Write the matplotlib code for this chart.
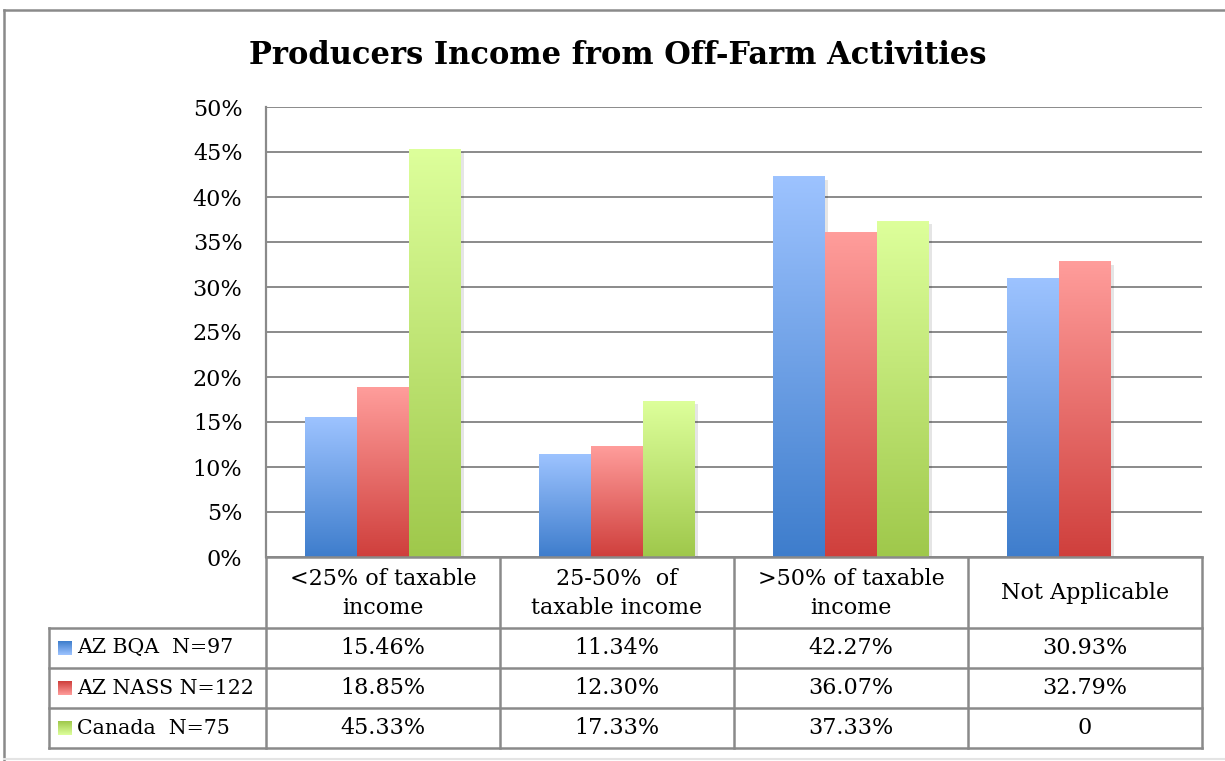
import numpy as np
import matplotlib.pyplot as plt
from matplotlib.colors import LinearSegmentedColormap
from matplotlib.patches import Rectangle
from matplotlib.transforms import offset_copy

plt.rcParams['font.family'] = ['DejaVu Serif']

categories = ['<25% of taxable\nincome', '25-50%  of\ntaxable income',
              '>50% of taxable\nincome', 'Not Applicable']
series = ['AZ BQA  N=97', 'AZ NASS N=122', 'Canada  N=75']
bqa = [15.46, 11.34, 42.27, 30.93]
nass = [18.85, 12.30, 36.07, 32.79]
canada = [45.33, 17.33, 37.33, 0]
yticks = [0, 5, 10, 15, 20, 25, 30, 35, 40, 45, 50]

# colour at the top and bottom of each bar
grad = [('#9dc3ff', '#3e7dcc'), ('#ff9d9b', '#cf3f3c'), ('#ddff9b', '#9fc84b')]


def fmt(v):
    return '0' if v == 0 else '{:.2f}%'.format(v)


def main():
    W, H = 1225, 761
    fig = plt.figure(figsize=(W / 100, H / 100), dpi=100)

    # plot area in pixels
    left, right, top, bottom = 266, 1202, 107, 557
    ax = fig.add_axes([left / W, 1 - bottom / H, (right - left) / W, (bottom - top) / H])

    values = [bqa, nass, canada]
    w = 0.222
    for i, vals in enumerate(values):
        cmap = LinearSegmentedColormap.from_list('g%d' % i, [grad[i][1], grad[i][0]])
        for j, v in enumerate(vals):
            if v <= 0:
                continue
            x = j + (i - 1) * w
            shadow = Rectangle((x - w / 2, 0), w, v, color='k', alpha=0.10, lw=0,
                               transform=offset_copy(ax.transData, fig, x=3, y=-3, units='dots'),
                               zorder=2.5)
            ax.add_patch(shadow)
            g = np.linspace(0, 1, 256).reshape(-1, 1)
            ax.imshow(g, cmap=cmap, origin='lower', aspect='auto',
                      extent=[x - w / 2, x + w / 2, 0, v], zorder=3)

    ax.set_xlim(-0.5, 3.5)
    ax.set_ylim(0, 50)
    ax.set_yticks(yticks)
    ax.set_yticklabels(['{}%'.format(t) for t in yticks], fontsize=16)
    ax.set_xticks([])
    ax.tick_params(axis='y', length=0, pad=17)
    ax.grid(axis='y', color='#8a8a8a', lw=1.4, zorder=1)
    ax.set_axisbelow(True)
    for s in ['top', 'right', 'bottom']:
        ax.spines[s].set_visible(False)
    ax.spines['left'].set_color('#8a8a8a')
    ax.spines['left'].set_linewidth(1.6)

    # overlay in pixel coordinates for the title, the data table and the frame
    ov = fig.add_axes([0, 0, 1, 1])
    ov.set_xlim(0, W)
    ov.set_ylim(H, 0)
    ov.axis('off')
    lc = '#8a8a8a'

    ov.plot([4, 4], [10, H], color=lc, lw=1.8)
    ov.plot([4, W], [10, 10], color=lc, lw=1.8)
    ov.plot([4, W], [H - 2, H - 2], color='#e4e4e4', lw=1.5)

    ov.text(618, 56, 'Producers Income from Off-Farm Activities',
            ha='center', va='center', fontsize=22, fontweight='bold')

    cw = (right - left) / len(categories)
    col_x = [left + cw * k for k in range(len(categories) + 1)]
    row_y = [bottom, 628, 668, 708, 748]
    lab_x = 49

    for cx in col_x:
        ov.plot([cx, cx], [bottom, row_y[-1]], color=lc, lw=1.8)
    ov.plot([left, right], [bottom, bottom], color=lc, lw=1.8)
    for ry in row_y[1:]:
        ov.plot([lab_x, right], [ry, ry], color=lc, lw=1.8)
    ov.plot([lab_x, lab_x], [row_y[1], row_y[-1]], color=lc, lw=1.8)

    for k, cat in enumerate(categories):
        ov.text((col_x[k] + col_x[k + 1]) / 2, (row_y[0] + row_y[1]) / 2 + 1, cat,
                ha='center', va='center', fontsize=16, linespacing=1.45)

    for i, (name, vals) in enumerate(zip(series, values)):
        yc = (row_y[i + 1] + row_y[i + 2]) / 2
        cmap = LinearSegmentedColormap.from_list('k%d' % i, [grad[i][1], grad[i][0]])
        g = np.linspace(0, 1, 64).reshape(-1, 1)
        ov.imshow(g, cmap=cmap, origin='upper', aspect='auto',
                  extent=[58, 72, yc + 7, yc - 7], zorder=3)
        ov.text(77, yc, name, ha='left', va='center', fontsize=14.8)
        for k, v in enumerate(vals):
            ov.text((col_x[k] + col_x[k + 1]) / 2, yc, fmt(v),
                    ha='center', va='center', fontsize=16)
    ov.set_xlim(0, W)
    ov.set_ylim(H, 0)

    fig.savefig('out.png', dpi=100)


if __name__ == '__main__':
    main()
